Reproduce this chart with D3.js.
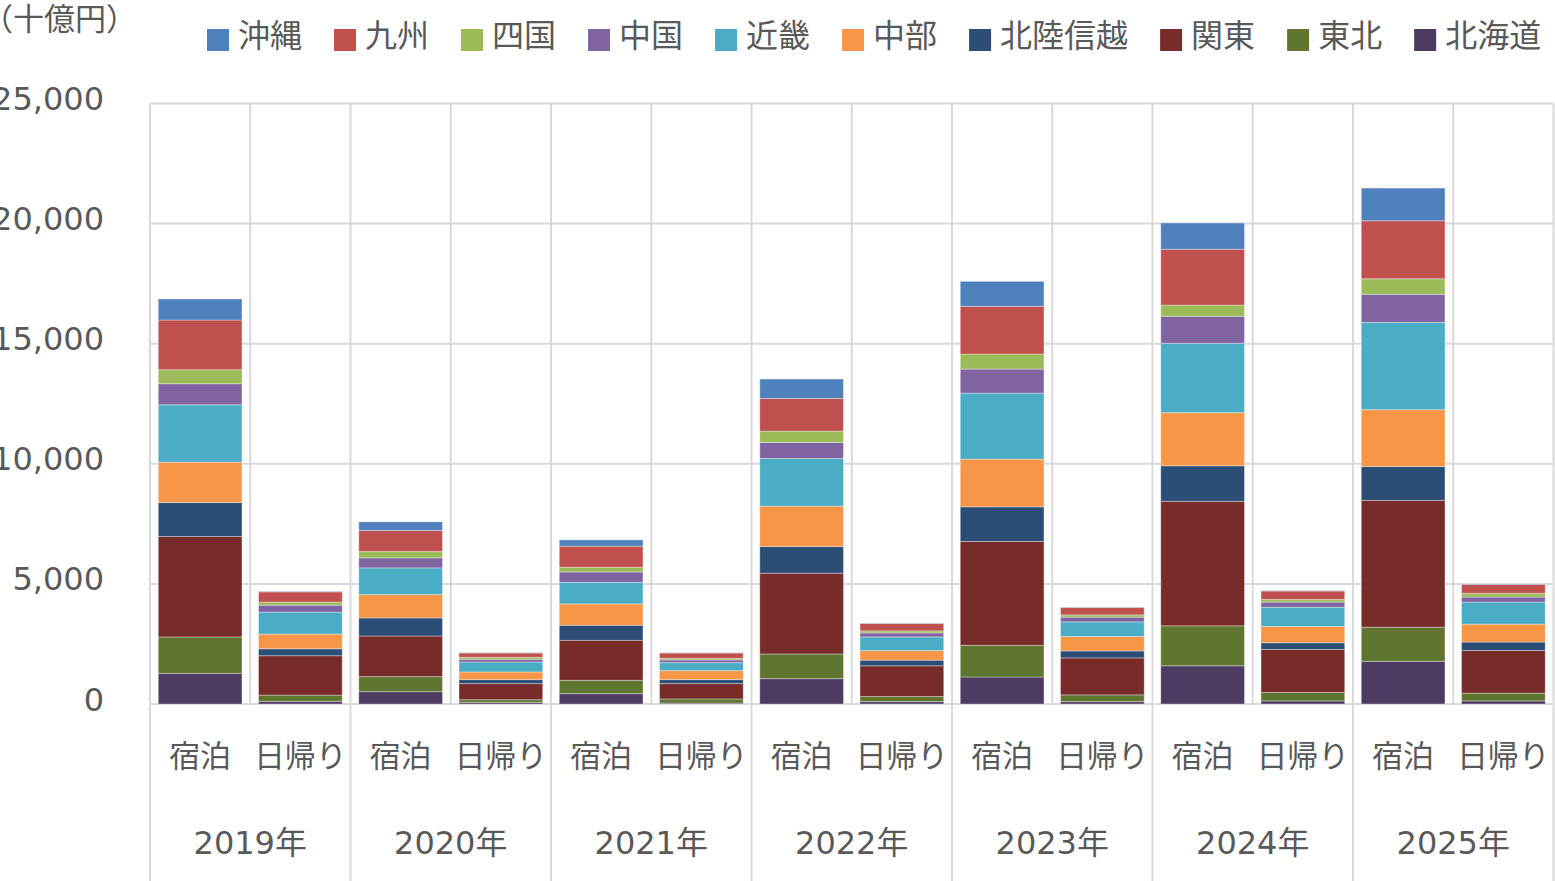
<!DOCTYPE html>
<html>
<head>
<meta charset="utf-8">
<script src="https://cdn.jsdelivr.net/npm/d3@7"></script>
<style>
  body { margin: 0; background: #fff; }
  svg { display: block; }
</style>
</head>
<body>
<script>
// categories
const years = ["2019年", "2020年", "2021年", "2022年", "2023年", "2024年", "2025年"]
const types = ["宿泊", "日帰り"]
// stack order, bottom -> top
const regions = ["北海道", "東北", "関東", "北陸信越", "中部", "近畿", "中国", "四国", "九州", "沖縄"]
const yTicks = [0, 5000, 10000, 15000, 20000, 25000]

// values (十億円), one per bar: 2019宿泊, 2019日帰り, 2020宿泊, ...
const hokkaido = [1278, 110, 514, 70, 431, 40, 1056, 100, 1125, 100, 1592, 130, 1775, 130]
const tohoku   = [1514, 260, 625, 110, 555, 170, 1027, 210, 1319, 280, 1662, 350, 1421, 321]
const kanto    = [4180, 1640, 1694, 670, 1667, 640, 3361, 1280, 4320, 1540, 5184, 1791, 5283, 1775]
const hokuriku = [1417, 290, 750, 165, 625, 165, 1112, 235, 1444, 290, 1479, 279, 1409, 354]
const chubu    = [1680, 610, 973, 320, 889, 375, 1680, 400, 1986, 600, 2212, 680, 2366, 746]
const kinki    = [2389, 915, 1111, 415, 902, 333, 1986, 570, 2750, 610, 2888, 800, 3634, 916]
const chugoku  = [875, 290, 416, 110, 431, 110, 667, 165, 1000, 195, 1125, 212, 1170, 213]
const shikoku  = [584, 125, 264, 85, 194, 70, 472, 85, 625, 95, 466, 113, 646, 154]
const kyushu   = [2069, 430, 875, 180, 875, 220, 1361, 305, 1987, 305, 2324, 350, 2413, 367]
const okinawa  = [876, 20, 361, 10, 264, 10, 806, 15, 1041, 15, 1097, 15, 1362, 20]

const series = [hokkaido, tohoku, kanto, hokuriku, chubu, kinki, chugoku, shikoku, kyushu, okinawa]
const colors = ["#4d3b62", "#5f7530", "#772c2a", "#2c4d75", "#f79646", "#4bacc6", "#8064a2", "#9bbb59", "#c0504d", "#4f81bd"]

// table for d3.stack
const rows = []
years.forEach(function(y, i) {
    types.forEach(function(t, j) {
        const row = {key: y + t, year: y, type: t}
        regions.forEach(function(r, k) { row[r] = series[k][i * 2 + j] })
        rows.push(row)
    })
})

const W = 1555, H = 881
const plotLeft = 150, plotRight = 1553.5, plotTop = 103.5, plotBottom = 704
const textColor = "#595959", gridColor = "#d9d9d9"
const numFont = "'DejaVu Sans', 'Noto Sans CJK JP', sans-serif"
const jpFont = "'Noto Sans CJK JP', sans-serif"

const svg = d3.select("body").append("svg")
    .attr("width", W)
    .attr("height", H)

const x = d3.scaleBand()
    .domain(rows.map(function(d) { return d.key }))
    .range([plotLeft, plotRight])
    .paddingInner(0.165)
    .paddingOuter(0.0825)

const y = d3.scaleLinear()
    .domain([0, 25000])
    .range([plotBottom, plotTop])

const color = d3.scaleOrdinal().domain(regions).range(colors)

// horizontal grid
svg.append("g")
    .selectAll("line")
    .data(yTicks).enter()
    .append("line")
    .attr("x1", plotLeft).attr("x2", plotRight)
    .attr("y1", function(d) { return y(d) })
    .attr("y2", function(d) { return y(d) })
    .attr("stroke", gridColor)
    .attr("stroke-width", 2)

// vertical grid between bars, year separators run down through the labels
const step = x.step()
const slotEdges = d3.range(rows.length + 1).map(function(i) { return plotLeft + i * step })
svg.append("g")
    .selectAll("line")
    .data(slotEdges).enter()
    .append("line")
    .attr("x1", function(d) { return d })
    .attr("x2", function(d) { return d })
    .attr("y1", plotTop)
    .attr("y2", function(d, i) { return i % 2 === 0 ? H : plotBottom })
    .attr("stroke", gridColor)
    .attr("stroke-width", 2)

// y axis labels
const yAxis = d3.axisLeft(y)
    .tickValues(yTicks)
    .tickSize(0)
    .tickPadding(0)
    .tickFormat(d3.format(","))
const ya = svg.append("g")
    .attr("transform", "translate(104,0)")
    .call(yAxis)
ya.select(".domain").remove()
ya.selectAll("text")
    .attr("dy", "6px")
    .attr("fill", textColor)
    .style("font-family", numFont)
    .style("font-size", "32px")

// bars
const stacked = d3.stack().keys(regions)(rows)
svg.append("g")
    .selectAll("g")
    .data(stacked).enter()
    .append("g")
    .attr("fill", function(d) { return color(d.key) })
    .selectAll("rect")
    .data(function(d) { return d }).enter()
    .append("rect")
    .attr("x", function(d) { return x(d.data.key) })
    .attr("width", x.bandwidth())
    .attr("y", function(d) { return y(d[1]) })
    .attr("height", function(d) { return y(d[0]) - y(d[1]) })
    .attr("stroke", "#ffffff")
    .attr("stroke-opacity", 0.35)
    .attr("stroke-width", 1)

// category labels (type)
svg.append("g")
    .selectAll("text")
    .data(rows).enter()
    .append("text")
    .attr("x", function(d) { return x(d.key) + x.bandwidth() / 2 })
    .attr("y", 767)
    .attr("text-anchor", "middle")
    .attr("fill", textColor)
    .style("font-family", jpFont)
    .style("font-size", "31px")
    .text(function(d) { return d.type })

// year labels
svg.append("g")
    .selectAll("text")
    .data(years).enter()
    .append("text")
    .attr("x", function(d, i) { return plotLeft + (i * 2 + 1) * step })
    .attr("y", 854)
    .attr("text-anchor", "middle")
    .attr("fill", textColor)
    .style("font-family", numFont)
    .style("font-size", "32px")
    .text(function(d) { return d })

// unit
svg.append("text")
    .attr("x", -18)
    .attr("y", 30)
    .attr("fill", textColor)
    .style("font-family", jpFont)
    .style("font-size", "31px")
    .text("（十億円）")

// legend
const legendOrder = regions.slice().reverse()
const legend = svg.append("g")
let lx = 207
legendOrder.forEach(function(r) {
    const g = legend.append("g").attr("transform", "translate(" + lx + ",0)")
    g.append("rect")
        .attr("x", 0).attr("y", 29)
        .attr("width", 22).attr("height", 22)
        .attr("fill", color(r))
    const t = g.append("text")
        .attr("x", 31).attr("y", 47)
        .attr("fill", textColor)
        .style("font-family", jpFont)
        .style("font-size", "32px")
        .text(r)
    lx += 31 + t.node().getComputedTextLength() + 32
})
</script>
</body>
</html>
